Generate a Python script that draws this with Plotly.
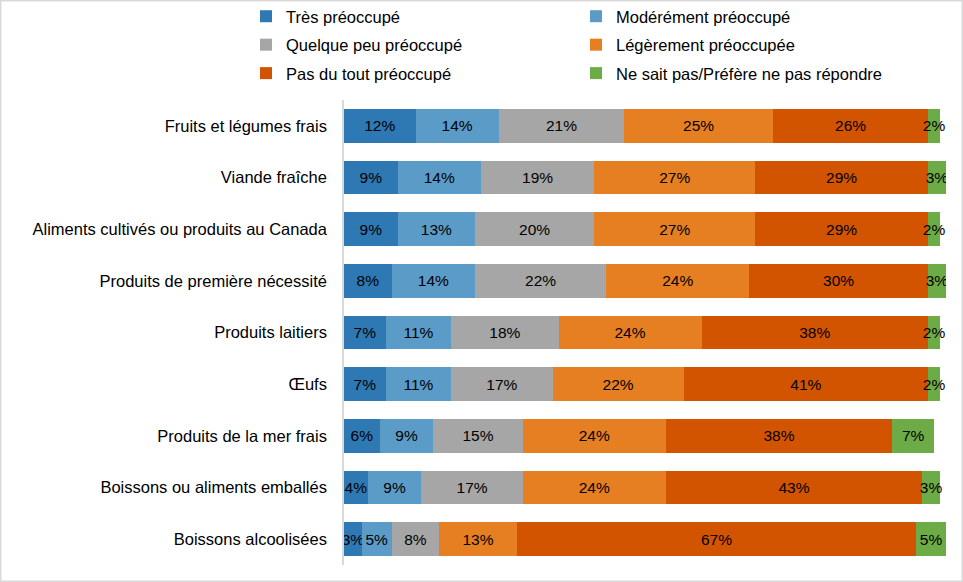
import plotly.graph_objects as go

categories = [
    "Fruits et légumes frais",
    "Viande fraîche",
    "Aliments cultivés ou produits au Canada",
    "Produits de première nécessité",
    "Produits laitiers",
    "Œufs",
    "Produits de la mer frais",
    "Boissons ou aliments emballés",
    "Boissons alcoolisées",
]

series_names = [
    "Très préoccupé",
    "Modérément préoccupé",
    "Quelque peu préoccupé",
    "Légèrement préoccupée",
    "Pas du tout préoccupé",
    "Ne sait pas/Préfère ne pas répondre",
]

tres = [12, 9, 9, 8, 7, 7, 6, 4, 3]
moderement = [14, 14, 13, 14, 11, 11, 9, 9, 5]
quelque_peu = [21, 19, 20, 22, 18, 17, 15, 17, 8]
legerement = [25, 27, 27, 24, 24, 22, 24, 24, 13]
pas_du_tout = [26, 29, 29, 30, 38, 41, 38, 43, 67]
ne_sait_pas = [2, 3, 2, 3, 2, 2, 7, 3, 5]

values = [tres, moderement, quelque_peu, legerement, pas_du_tout, ne_sait_pas]
colors = ["#2E78B4", "#5B9BC7", "#A6A6A6", "#E67F22", "#D35400", "#6DAB46"]
legend_ref = ["legend", "legend2", "legend", "legend2", "legend", "legend2"]

FONT = "Liberation Sans, Arial, sans-serif"

W, H = 963, 582
ML, MR, MT, MB = 344, 17, 100, 17
PW = W - ML - MR
PH = H - MT - MB

fig = go.Figure()
for i, (name, vals) in enumerate(zip(series_names, values)):
    fig.add_trace(go.Bar(
        y=categories,
        x=vals,
        name=name,
        orientation="h",
        marker=dict(color=colors[i], line=dict(width=0)),
        text=[f"{v}%" for v in vals],
        textposition="inside",
        insidetextanchor="middle",
        textangle=0,
        textfont=dict(family=FONT, size=15.5, color="#000000"),
        legend=legend_ref[i],
        legendgroup=f"g{i}",
        hoverinfo="x+y+name",
    ))

def px_x(p):
    return (p - ML) / PW

def px_y(p):
    return 1 - (p - MT) / PH

fig.update_layout(
    width=W,
    height=H,
    barmode="stack",
    bargap=0.35,
    margin=dict(l=ML, r=MR, t=MT, b=MB, autoexpand=False),
    paper_bgcolor="white",
    plot_bgcolor="white",
    font=dict(family=FONT, size=16, color="#000000"),
    uniformtext=dict(minsize=15.5, mode="show"),
    xaxis=dict(range=[0, 101], showgrid=False, showticklabels=False,
               zeroline=False, showline=False, fixedrange=True, automargin=False),
    yaxis=dict(categoryorder="array", categoryarray=categories,
               autorange="reversed", showgrid=False, showline=True,
               linecolor="#D9D9D9", linewidth=1.5, ticks="",
               ticklabelstandoff=12, automargin=False,
               tickfont=dict(family=FONT, size=16.5, color="#000000")),
    legend=dict(x=px_x(246), y=px_y(-1), xanchor="left", yanchor="top",
                orientation="v", tracegroupgap=4,
                font=dict(family=FONT, size=16.5, color="#000000"),
                bgcolor="rgba(0,0,0,0)"),
    legend2=dict(x=px_x(576), y=px_y(-1), xanchor="left", yanchor="top",
                 orientation="v", tracegroupgap=4,
                 font=dict(family=FONT, size=16.5, color="#000000"),
                 bgcolor="rgba(0,0,0,0)"),
    showlegend=True,
    shapes=[dict(type="rect", xref="paper", yref="paper",
                 x0=px_x(0.75), x1=px_x(W - 0.75),
                 y0=px_y(H - 0.75), y1=px_y(0.75),
                 line=dict(color="#D9D9D9", width=1.5), layer="below")],
)

fig.write_html("out.html",
               config={"displayModeBar": False},
               post_script="document.body.style.margin='0';document.body.style.overflow='hidden';")
